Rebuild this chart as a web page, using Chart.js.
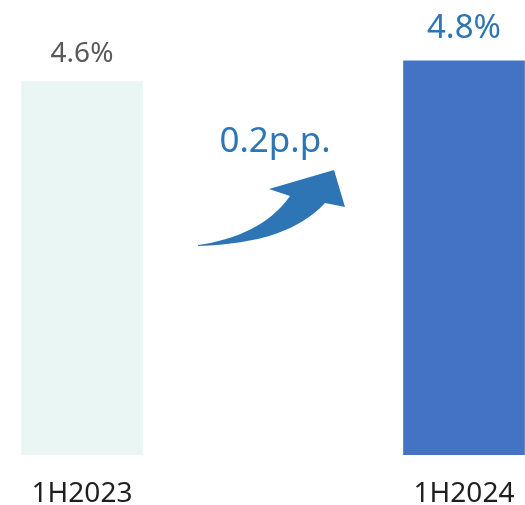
<!DOCTYPE html>
<html>
<head>
<meta charset="utf-8">
<script src="https://cdn.jsdelivr.net/npm/chart.js@4"></script>
<style>
  html, body { margin: 0; padding: 0; background: #ffffff; }
  #wrap { width: 525px; height: 505px; }
</style>
</head>
<body>
<div id="wrap"><canvas id="chartRate"></canvas></div>
<script>
// ================== DATA ================ //
const PERIODS = ["1H2023", "1H2024"];
const RATES = [4.6, 4.8];
const RATE_LABELS = ["4.6%", "4.8%"];
const CHANGE_LABEL = "0.2p.p.";

const BAR_COLORS = ["#eaf6f3", "#4472c4"];
const LABEL_COLORS = ["#595959", "#2e75b6"];
const LABEL_SIZES = [28, 33];
const LABEL_GAPS = [20, 23];
const FONT = "'Noto Sans', 'Open Sans', sans-serif";

// value labels above the bars + period labels under them
const valueLabels = {
  id: "valueLabels",
  afterDatasetsDraw(chart) {
    const { ctx, chartArea } = chart;
    const meta = chart.getDatasetMeta(0);
    const xScale = chart.scales.x;
    ctx.save();
    ctx.textAlign = "center";
    ctx.textBaseline = "alphabetic";
    meta.data.forEach((bar, i) => {
      ctx.font = `${LABEL_SIZES[i]}px ${FONT}`;
      ctx.fillStyle = LABEL_COLORS[i];
      ctx.fillText(RATE_LABELS[i], bar.x, bar.y - LABEL_GAPS[i]);
    });
    ctx.font = `28px ${FONT}`;
    ctx.fillStyle = "#1f1f1f";
    PERIODS.forEach((p, i) => {
      ctx.fillText(p, xScale.getPixelForValue(i), chartArea.bottom + 47);
    });
    ctx.restore();
  },
};

// curved arrow + change text between the bars
const changeArrow = {
  id: "changeArrow",
  afterDatasetsDraw(chart) {
    const { ctx } = chart;
    ctx.save();
    ctx.fillStyle = "#2e75b6";
    ctx.beginPath();
    ctx.moveTo(198, 245);
    ctx.bezierCurveTo(235, 240, 270, 225, 290, 196);
    ctx.lineTo(269, 189);
    ctx.lineTo(334, 170);
    ctx.lineTo(345, 207);
    ctx.lineTo(325, 203);
    ctx.bezierCurveTo(300, 230, 260, 244, 198, 246);
    ctx.closePath();
    ctx.fill();

    ctx.font = `35px ${FONT}`;
    ctx.textAlign = "center";
    ctx.textBaseline = "alphabetic";
    ctx.fillText(CHANGE_LABEL, 275, 152);
    ctx.restore();
  },
};

new Chart(document.getElementById("chartRate"), {
  type: "bar",
  data: {
    labels: PERIODS,
    datasets: [
      {
        data: RATES,
        backgroundColor: BAR_COLORS,
        barThickness: 121,
        // bars may overhang the plot sideways, but stop at its bottom edge
        clip: { left: 100, right: 100, top: 50, bottom: 0 },
      },
    ],
  },
  options: {
    responsive: true,
    maintainAspectRatio: false,
    animation: false,
    layout: {
      padding: { left: 82, right: 61, top: 40, bottom: 50 },
    },
    plugins: {
      legend: { display: false },
      tooltip: { enabled: false },
    },
    scales: {
      x: {
        display: false,
        offset: false,
      },
      y: {
        display: false,
        min: 1,
        max: 5,
      },
    },
  },
  plugins: [valueLabels, changeArrow],
});
</script>
</body>
</html>
